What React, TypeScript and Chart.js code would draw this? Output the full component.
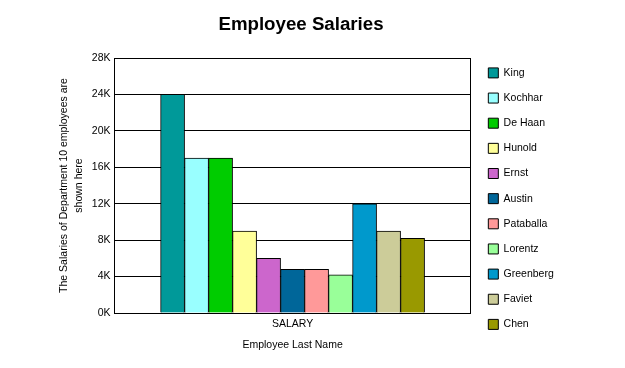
import React, { useEffect, useRef } from "react";
import { Chart, registerables } from "chart.js";

Chart.register(...registerables);

const categories = ["SALARY"];
const employees = ["King", "Kochhar", "De Haan", "Hunold", "Ernst", "Austin", "Pataballa", "Lorentz", "Greenberg", "Faviet", "Chen"];
const salaries = [24000, 17000, 17000, 9000, 6000, 4800, 4800, 4200, 12000, 9000, 8200];
const colors = ["#009999", "#99FFFF", "#00CC00", "#FFFF99", "#CC66CC", "#006699", "#FF9999", "#99FF99", "#0099CC", "#CCCC99", "#999900"];
const yTitleLines = ["The Salaries of Department 10 employees are", "shown here"];
const xTitle = "Employee Last Name";
const chartTitle = "Employee Salaries";

const FONT = "'Liberation Sans', Arial, sans-serif";
const FS = 10.5;

export default function App() {
  const ref = useRef<HTMLCanvasElement | null>(null);
  useEffect(() => {
    const canvas = ref.current;
    if (!canvas) return;
    const W = 625;
    const plotLeft = 114.5;
    const plotRight = 469.5;
    const legendPad = 14.65;
    let padL = 40;
    let padR = 60;

    Chart.defaults.font.family = FONT;
    Chart.defaults.font.size = FS;
    Chart.defaults.color = "#000";

    const chart: any = new Chart(canvas, {
      type: "bar",
      data: {
        labels: categories,
        datasets: employees.map((name, i) => ({
          label: name,
          data: [salaries[i]],
          backgroundColor: colors[i],
          borderColor: "#000",
          borderWidth: 1,
          barThickness: 24,
          yAxisID: "y",
        })),
      },
      options: {
        animation: false,
        responsive: false,
        events: [],
        layout: { padding: { left: padL, right: padR, top: 0, bottom: 0 } },
        plugins: {
          tooltip: { enabled: false },
          title: {
            display: true,
            text: chartTitle,
            color: "#000",
            font: { family: FONT, size: 18.7, weight: "bold" },
            padding: { top: 14, bottom: 21.56 },
          },
          legend: {
            display: true,
            position: "right",
            align: "start",
            title: { display: true, text: " ", font: { size: 10 }, padding: { top: 41, bottom: 0 } },
            labels: {
              boxWidth: 10,
              boxHeight: 10,
              padding: legendPad,
              color: "#000",
              font: { family: FONT, size: FS },
            },
          },
        },
        scales: {
          x: {
            type: "category",
            offset: true,
            grid: { display: true, offset: true, color: "#000", lineWidth: 1, drawTicks: false },
            border: { display: true, color: "#000", width: 1 },
            ticks: { padding: 5, color: "#000", font: { family: FONT, size: FS } },
            title: {
              display: true,
              text: xTitle,
              color: "#000",
              font: { family: FONT, size: FS },
              padding: { top: 0, bottom: 17 },
            },
            afterFit: (s: any) => {
              s.height = 55;
            },
          },
          y: {
            type: "linear",
            position: "left",
            min: 0,
            max: 28000,
            grid: { color: "#000", lineWidth: 1, drawTicks: false },
            border: { display: true, color: "#000", width: 1 },
            ticks: {
              stepSize: 4000,
              padding: 4,
              color: "#000",
              font: { family: FONT, size: FS },
              callback: (v: any) => `${Number(v) / 1000}K`,
            },
            title: {
              display: true,
              text: yTitleLines,
              color: "#000",
              font: { family: FONT, size: FS, lineHeight: 1.4 },
              padding: { top: 17, bottom: 0 },
            },
            afterFit: (s: any) => {
              s.width = plotLeft - padL;
            },
          },
          y2: {
            type: "linear",
            position: "right",
            display: true,
            grid: { display: false, drawTicks: false },
            border: { display: false },
            ticks: { display: false },
            afterFit: (s: any) => {
              s.width = 3;
            },
          },
        },
      },
    });

    // Fit layout so the plot spans the reference's area and the title stays centred.
    const lw = chart.legend.width;
    const inner = plotRight + 3 + lw;
    padR = W - inner;
    padL = 602 - inner;
    chart.options.layout.padding = { left: padL, right: padR, top: 0, bottom: 0 };
    chart.options.scales.y.title.padding = { top: 57 - padL, bottom: 0 };
    chart.update();

    return () => chart.destroy();
  }, []);
  return (
    <div style={{ position: "absolute", left: 0, top: 0, width: 625, height: 368, background: "#fff" }}>
      <canvas ref={ref} width={625} height={368} style={{ display: "block" }} />
    </div>
  );
}
